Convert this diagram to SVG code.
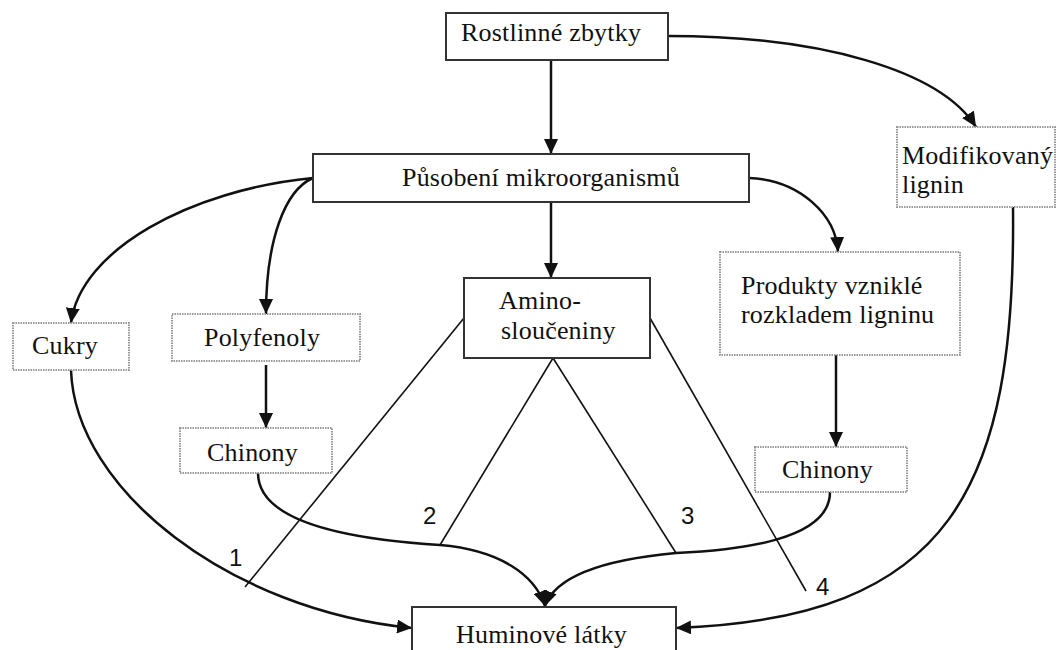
<svg xmlns="http://www.w3.org/2000/svg" width="1058" height="650" viewBox="0 0 1058 650">
<style>
.solid{fill:#fff;stroke:#333;stroke-width:2}
.dot{fill:#fff;stroke:#999;stroke-width:2;stroke-dasharray:1.5 1}
.t{font-family:'Liberation Serif',serif;font-size:26px;letter-spacing:0.2px;fill:#111}
.n{font-family:'Liberation Sans',sans-serif;font-size:24px;fill:#111}
.c{fill:none;stroke:#111;stroke-width:2.5}
.l{fill:none;stroke:#111;stroke-width:1.6}
</style>
<defs>
<marker id="ah" markerUnits="userSpaceOnUse" markerWidth="16" markerHeight="14" refX="15" refY="7" orient="auto">
<path d="M0,0 L15,7 L0,14 z" fill="#111"/>
</marker>
</defs>
<rect width="1058" height="650" fill="#fff"/>
<g id="connectors">
<path class="c" d="M551,60 L551,154" marker-end="url(#ah)"/>
<path class="c" d="M668,36 C820,36 940,70 976,127" marker-end="url(#ah)"/>
<path class="c" d="M313,178 C190,190 80,250 71,323" marker-end="url(#ah)"/>
<path class="c" d="M313,178 C285,190 266,240 266,314" marker-end="url(#ah)"/>
<path class="c" d="M551,202 L551,278" marker-end="url(#ah)"/>
<path class="c" d="M749,178 C800,180 836,215 838,252" marker-end="url(#ah)"/>
<path class="c" d="M266,365 L266,428" marker-end="url(#ah)"/>
<path class="c" d="M836,355 L836,447" marker-end="url(#ah)"/>
<path class="c" d="M71,370 C75,490 230,610 412,628" marker-end="url(#ah)"/>
<path class="c" d="M258,473 C258,525 360,540 440,545 C500,550 535,575 545,606" marker-end="url(#ah)"/>
<path class="c" d="M830,492 C830,540 740,550 676,553 C600,560 555,578 545,606" marker-end="url(#ah)"/>
<path class="c" d="M1013,207 C1016,490 950,618 676,628" marker-end="url(#ah)"/>
<path class="l" d="M464,318 L245,587"/>
<path class="l" d="M553,358 L440,545"/>
<path class="l" d="M553,358 L676,553"/>
<path class="l" d="M650,318 L806,591"/>
<text class="n" x="229" y="566">1</text>
<text class="n" x="423" y="524">2</text>
<text class="n" x="681" y="524">3</text>
<text class="n" x="816" y="595">4</text>
</g>
<g id="rostlinne"><rect class="solid" x="446" y="13" width="222" height="47"/><text class="t" x="461" y="41">Rostlinné zbytky</text></g>
<g id="pusobeni"><rect class="solid" x="313" y="154" width="436" height="48"/><text class="t" x="402" y="186">Působení mikroorganismů</text></g>
<g id="modifikovany"><rect class="dot" x="897" y="127" width="158" height="80"/><text class="t" x="902" y="164">Modifikovaný</text><text class="t" x="902" y="193">lignin</text></g>
<g id="cukry"><rect class="dot" x="13" y="323" width="116" height="47"/><text class="t" x="32" y="354">Cukry</text></g>
<g id="polyfenoly"><rect class="dot" x="172" y="314" width="188" height="47"/><text class="t" x="204" y="346">Polyfenoly</text></g>
<g id="amino"><rect class="solid" x="464" y="278" width="186" height="80"/><text class="t" x="499" y="309">Amino-</text><text class="t" x="501" y="339">sloučeniny</text></g>
<g id="produkty"><rect class="dot" x="720" y="252" width="240" height="103"/><text class="t" x="741" y="294">Produkty vzniklé</text><text class="t" x="741" y="323">rozkladem ligninu</text></g>
<g id="chinony1"><rect class="dot" x="180" y="428" width="152" height="45"/><text class="t" x="207" y="461">Chinony</text></g>
<g id="chinony2"><rect class="dot" x="755" y="447" width="152" height="45"/><text class="t" x="782" y="478">Chinony</text></g>
<g id="huminove"><rect class="solid" x="412" y="607" width="264" height="60"/><text class="t" x="456" y="643">Huminové látky</text></g>
</svg>
